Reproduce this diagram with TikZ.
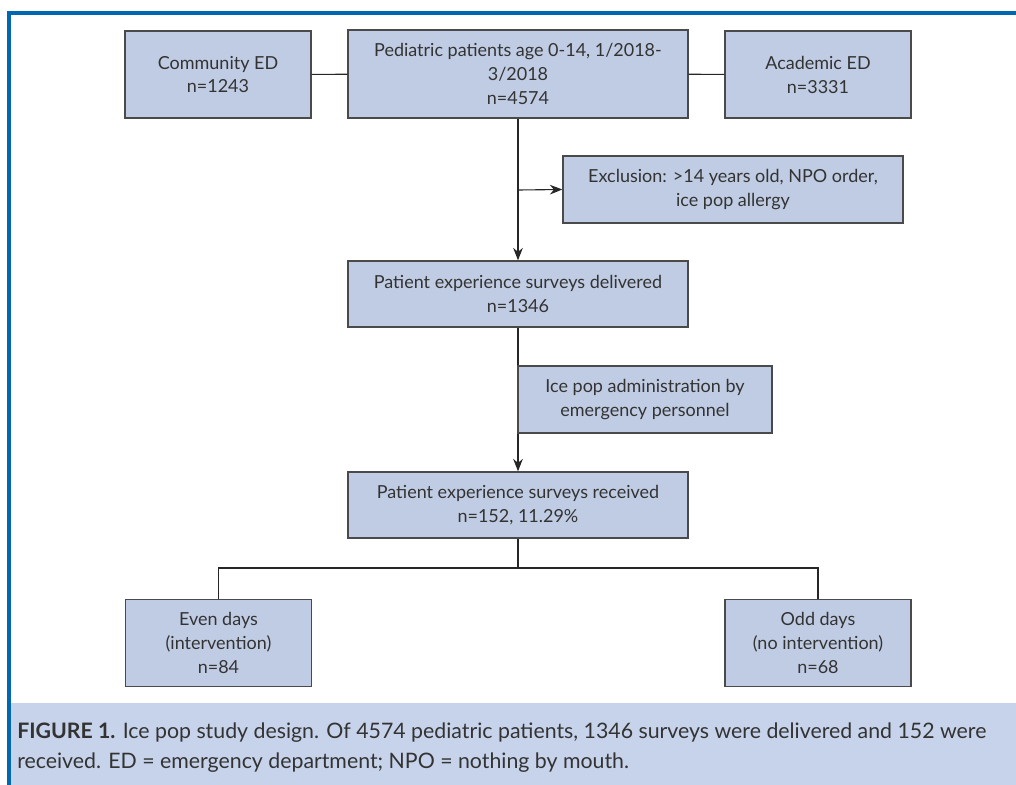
\documentclass[tikz,border=0pt]{standalone}
\usepackage{fontspec}
\setmainfont{Lato}
\usetikzlibrary{arrows.meta}
\definecolor{boxfill}{HTML}{C0CCE3}
\definecolor{boxline}{HTML}{4A4A4A}
\definecolor{capfill}{HTML}{C6D3EA}
\definecolor{framebl}{HTML}{0067B1}
\definecolor{txtgray}{HTML}{333333}
\tikzset{
	flowbox/.style={draw=boxline, line width=0.9pt, fill=boxfill, text=txtgray, align=center,
		font=\fontsize{13}{17.3}\selectfont, inner sep=0pt},
	sidebox/.style={flowbox, minimum width=4.72cm, minimum height=2.21cm},
	widebox/.style={flowbox, minimum width=8.64cm, minimum height=1.68cm},
	link/.style={line width=0.8pt, black!85},
	arr/.style={link, -{Stealth[length=9pt, width=7pt]}}
}

\begin{document}
\begin{tikzpicture}[x=0.0254cm, y=-0.0254cm]
			%%%%% START %%%%%
			\useasboundingbox (0, 0) rectangle (1016, 785);
			\fill[capfill] (10, 703) rectangle (1016, 785);
			\draw[framebl, line width=2.2pt] (9, 785) -- (9, 13) -- (1016, 13);
			
			\node[sidebox] (comm) at (218, 74.5) {Community ED\\n=1243};
			\node[widebox, minimum height=2.24cm] (ped) at (518, 74) {Pediatric patients age 0-14, 1/2018-\\3/2018\\n=4574};
			\node[sidebox] (acad) at (818, 74.5) {Academic ED\\n=3331};
			
			\node[widebox, minimum height=1.70cm] (excl) at (733, 189.5) {Exclusion: >14 years old, NPO order,\\ice pop allergy};
			\node[widebox] (deliv) at (518, 294) {Patient experience surveys delivered\\n=1346};
			\node[widebox] (recv) at (518, 505) {Patient experience surveys received\\n=152, 11.29\%};
			
			\node[sidebox] (even) at (218.5, 643) {Even days\\(intervention)\\n=84};
			\node[sidebox] (odd) at (818, 643) {Odd days\\(no intervention)\\n=68};
			
			\draw[link] (comm) -- (ped);
			\draw[link] (ped) -- (acad);
			
			\coordinate (split) at (518, 190);
			\draw[arr] (ped) -- (deliv);
			\draw[arr] (split) -- (excl.west);
			\draw[arr] (deliv) -- (recv);
			\node[widebox, minimum width=6.45cm, minimum height=1.70cm] (admin) at (645, 399.5) {Ice pop administration by\\emergency personnel};
			
			\coordinate (fork) at (518, 568);
			\draw[link] (recv) -- (fork);
			\draw[link] (fork) -| (even);
			\draw[link] (fork) -| (odd);
			
			\node[anchor=north west, text=txtgray, align=left, inner sep=0pt,
				font=\fontsize{15.4}{21.5}\selectfont] (cap) at (17, 723)
				{\textbf{FIGURE 1.} Ice pop study design. Of 4574 pediatric patients, 1346 surveys were delivered and 152 were\\
				received. ED = emergency department; NPO = nothing by mouth.};
			%%%%% END %%%%%
		\end{tikzpicture}
\end{document}
